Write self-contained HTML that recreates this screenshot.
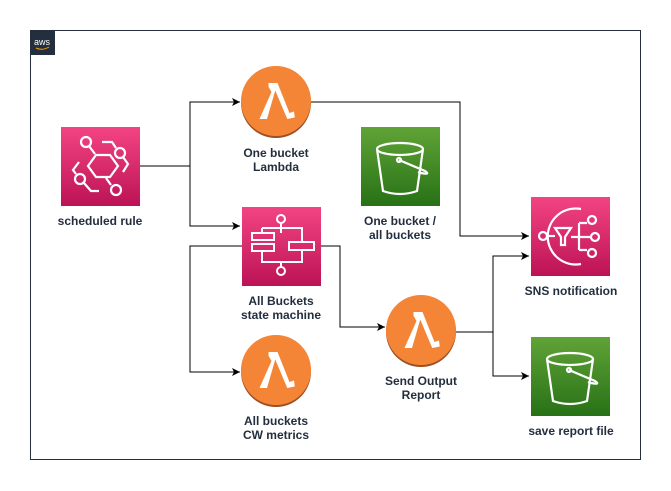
<!DOCTYPE html>
<html><head><meta charset="utf-8"><style>
html,body{margin:0;padding:0;background:#fff;width:671px;height:491px;overflow:hidden}
text{font-family:"Liberation Sans",sans-serif;font-weight:bold;font-size:12px;fill:#232f3e;text-anchor:middle}
</style></head><body>
<svg width="671" height="491" viewBox="0 0 671 491" xmlns="http://www.w3.org/2000/svg">
<defs>
<linearGradient id="pk" x1="0" y1="0" x2="0" y2="1"><stop offset="0" stop-color="#f34482"/><stop offset="1" stop-color="#bc1356"/></linearGradient>
<linearGradient id="gr" x1="0" y1="0" x2="0" y2="1"><stop offset="0" stop-color="#60a337"/><stop offset="1" stop-color="#277116"/></linearGradient>
<marker id="ar" markerWidth="10" markerHeight="10" refX="8" refY="4" orient="auto" markerUnits="userSpaceOnUse"><path d="M0,0 L8,4 L0,8 L2,4 z" fill="#000"/></marker>
<g id="lam"><circle cx="0" cy="2" r="35" fill="#9d5025"/><circle cx="0" cy="0" r="35" fill="#f58536"/>
<path transform="scale(0.75)" d="M-10,-24 L2,-24 L18,16 L24,14 L25,22 L15,24 L-1,-14 L-12,24 L-22,24 L-6,-12 L-10,-19 z" fill="#fff"/></g>
<g id="s3" fill="none" stroke="#fff" stroke-width="2.2"><ellipse cx="39" cy="22" rx="23" ry="6"/><path d="M16,22 L22,64 Q39,70 56,64 L62,22"/><path d="M38,33 L64,44 Q70,48 60,46 L57,45"/><circle cx="38" cy="33" r="2"/></g>
</defs>
<rect x="30.5" y="30.5" width="610" height="429" fill="none" stroke="#232f3e" stroke-width="1"/>
<rect x="30" y="30" width="25" height="25" fill="#232f3e"/>
<text x="42" y="45" style="font-size:9px;fill:#fff;font-weight:normal">aws</text>
<path d="M36,48 Q42,51 49,47" stroke="#f90" fill="none" stroke-width="1"/>
<g stroke="#000" stroke-width="1" fill="none">
<path d="M140,166 H190 V102 H240" marker-end="url(#ar)"/>
<path d="M190,166 V226 H240" marker-end="url(#ar)"/>
<path d="M311,102 H460 V236 H529" marker-end="url(#ar)"/>
<path d="M242,246 H190 V372 H240" marker-end="url(#ar)"/>
<path d="M321,246 H340 V327 H385" marker-end="url(#ar)"/>
<path d="M456,332 H493 V256 H529" marker-end="url(#ar)"/>
<path d="M493,332 V376 H529" marker-end="url(#ar)"/>
</g>
<rect x="61" y="127" width="79" height="79" fill="url(#pk)"/>
<g fill="none" stroke="#fff" stroke-width="2.2" transform="translate(61,127)">
<path d="M31,37 L39,26 L53,26 L61,37 L53,48 L39,48 z" transform="translate(-4,2)"/>
<circle cx="25" cy="15" r="5"/><path d="M28,19 L34,27"/>
<path d="M41,15 L51,15 L55,21"/><circle cx="59" cy="26" r="5"/><path d="M62,30 L67,37 L62,45"/>
<circle cx="19" cy="52" r="5"/><path d="M18,35 L12,43 L15,47"/><path d="M23,56 L30,64 L38,64"/>
<circle cx="55" cy="63" r="5"/><path d="M50,58 L45,51"/>
</g>
<rect x="242" y="207" width="79" height="79" fill="url(#pk)"/>
<g fill="none" stroke="#fff" stroke-width="2" transform="translate(242,207)">
<circle cx="39" cy="12" r="4"/><path d="M39,16 V21 M20,21 H60 V35 M20,21 V26 M39,21 V26"/>
<rect x="10" y="26" width="22" height="7"/><rect x="10" y="37" width="22" height="7"/>
<rect x="47" y="35" width="25" height="8"/>
<path d="M20,44 V55 H60 V43 M39,55 V60"/><circle cx="39" cy="64" r="4"/>
</g>
<use href="#lam" x="276" y="101"/>
<use href="#lam" x="421" y="330"/>
<use href="#lam" x="276" y="370"/>
<rect x="361" y="127" width="79" height="79" fill="url(#gr)"/><use href="#s3" x="361" y="127"/>
<rect x="531" y="337" width="79" height="79" fill="url(#gr)"/><use href="#s3" x="531" y="337"/>
<rect x="531" y="197" width="79" height="79" fill="url(#pk)"/>
<g fill="none" stroke="#fff" stroke-width="2.2" transform="translate(531,197)">
<path d="M50,12 A28,28 0 1 0 50,67"/>
<circle cx="12" cy="39" r="4"/><path d="M16,39 H24"/>
<path d="M24,31 H40 L34,40 V48 H30 V40 z"/>
<path d="M40,40 H48 M48,26 V53 M48,26 H56 M48,53 H56 M48,40 H60"/>
<circle cx="61" cy="23" r="4"/><circle cx="64" cy="40" r="4"/><circle cx="61" cy="56" r="4"/>
</g>
<text x="100" y="225">scheduled rule</text>
<text x="276" y="157">One bucket</text><text x="276" y="171">Lambda</text>
<text x="281" y="305">All Buckets</text><text x="281" y="319">state machine</text>
<text x="400" y="225">One bucket /</text><text x="400" y="239">all buckets</text>
<text x="571" y="295">SNS notification</text>
<text x="421" y="385">Send Output</text><text x="421" y="399">Report</text>
<text x="571" y="435">save report file</text>
<text x="276" y="425">All buckets</text><text x="276" y="439">CW metrics</text>
</svg>
</body></html>
